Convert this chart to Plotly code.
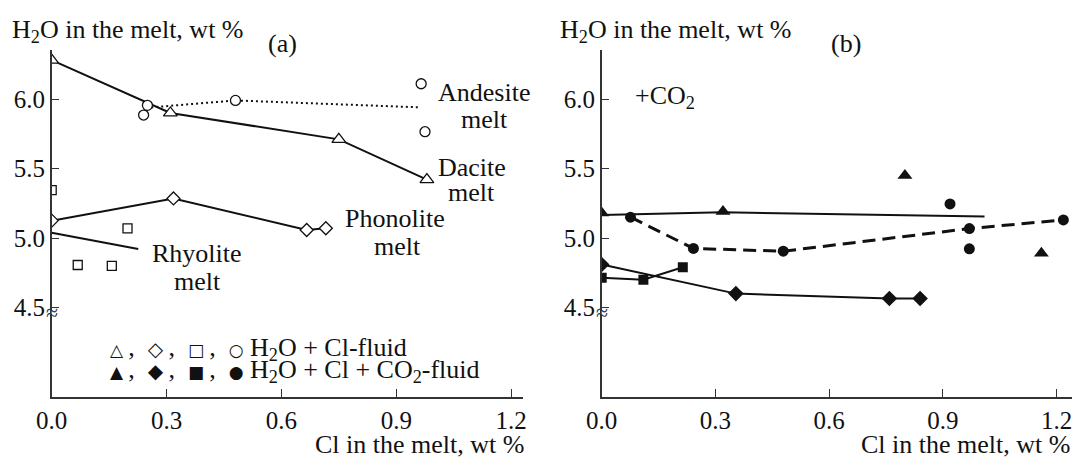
import plotly.graph_objects as go

# ---------------- data ----------------
# Panel (a): H2O + Cl fluid (open symbols)
dac_cl = [0.0, 0.31, 0.75, 0.98]
dac_h2o = [6.28, 5.90, 5.71, 5.42]
and_cl = [0.24, 0.25, 0.48, 0.965, 0.975]
and_h2o = [5.885, 5.955, 5.99, 6.11, 5.765]
and_trend_cl = [0.26, 0.48, 0.962]
and_trend_h2o = [5.94, 5.99, 5.94]
pho_cl = [0.0, 0.318, 0.666, 0.716]
pho_h2o = [5.125, 5.285, 5.058, 5.07]
rhy_cl = [0.0, 0.068, 0.157, 0.198]
rhy_h2o = [5.345, 4.806, 4.80, 5.07]
rhy_trend_cl = [0.0, 0.226]
rhy_trend_h2o = [5.038, 4.921]

# Panel (b): H2O + Cl + CO2 fluid (filled symbols)
dacb_cl = [0.0, 0.32, 0.80, 1.16]
dacb_h2o = [5.18, 5.19, 5.45, 4.89]
dacb_trend_cl = [0.0, 0.32, 1.01]
dacb_trend_h2o = [5.165, 5.185, 5.155]
andb_cl = [0.076, 0.242, 0.479, 0.919, 0.97, 0.97, 1.218]
andb_h2o = [5.15, 4.925, 4.905, 5.245, 5.068, 4.922, 5.13]
andb_trend_cl = [0.076, 0.242, 0.479, 0.97, 1.218]
andb_trend_h2o = [5.15, 4.925, 4.905, 5.068, 5.13]
phob_cl = [0.0, 0.354, 0.759, 0.84]
phob_h2o = [4.81, 4.60, 4.565, 4.565]
rhyb_cl = [0.0, 0.11, 0.214]
rhyb_h2o = [4.715, 4.70, 4.79]

x_ticks = [0.0, 0.3, 0.6, 0.9, 1.2]
x_ticklabels = ["0.0", "0.3", "0.6", "0.9", "1.2"]
y_ticks = [4.5, 5.0, 5.5, 6.0]
y_ticklabels = ["4.5", "5.0", "5.5", "6.0"]
y_break = 4.5

# ---------------- styling ----------------
W, H = 1075, 458
FONT = "Liberation Serif"
FS = 26
TFS = 25
AX = "#333333"
BLACK = "#111111"
NB = "\u00a0"
THIN = "\u2009"


def px(x):
    return x / W


def py(y):
    return 1 - y / H


fig = go.Figure()


def line(x, y, xa, ya, width=2, dash="solid"):
    fig.add_trace(go.Scatter(x=x, y=y, mode="lines", xaxis=xa, yaxis=ya,
                             line=dict(color=BLACK, width=width, dash=dash),
                             showlegend=False, hoverinfo="skip"))


def pts(x, y, xa, ya, symbol, size, filled):
    fig.add_trace(go.Scatter(
        x=x, y=y, mode="markers", xaxis=xa, yaxis=ya,
        marker=dict(symbol=symbol, size=size,
                    color=BLACK if filled else "white",
                    line=dict(color=BLACK, width=0 if filled else 1.3)),
        showlegend=False))


# panel (a)
line(dac_cl, dac_h2o, "x", "y")
line(and_trend_cl, and_trend_h2o, "x", "y", width=2, dash="2px,3px")
line(pho_cl, pho_h2o, "x", "y")
line(rhy_trend_cl, rhy_trend_h2o, "x", "y")
pts(dac_cl, dac_h2o, "x", "y", "triangle-up", 12, False)
pts(and_cl, and_h2o, "x", "y", "circle", 10, False)
pts(pho_cl, pho_h2o, "x", "y", "diamond", 10, False)
pts(rhy_cl, rhy_h2o, "x", "y", "square", 9, False)

# panel (b)
line(dacb_trend_cl, dacb_trend_h2o, "x2", "y2")
line(andb_trend_cl, andb_trend_h2o, "x2", "y2", width=3, dash="13px,7px")
line(phob_cl, phob_h2o, "x2", "y2")
line(rhyb_cl, rhyb_h2o, "x2", "y2")
pts(dacb_cl, dacb_h2o, "x2", "y2", "triangle-up", 13, True)
pts(andb_cl, andb_h2o, "x2", "y2", "circle", 11, True)
pts(phob_cl, phob_h2o, "x2", "y2", "diamond", 12, True)
pts(rhyb_cl, rhyb_h2o, "x2", "y2", "square", 10, True)

ydom = [py(397), py(50)]
yrng = [3.856, 6.353]
common_x = dict(showline=True, linecolor=AX, linewidth=1.5, ticks="inside",
                ticklen=8, tickwidth=1.3, tickcolor=AX, tickvals=x_ticks,
                ticktext=x_ticklabels, showgrid=False, zeroline=False,
                automargin=False,
                tickfont=dict(family=FONT, size=TFS, color=BLACK), fixedrange=True)
common_y = dict(showline=True, linecolor=AX, linewidth=1.5, ticks="inside",
                ticklen=8, tickwidth=1.3, tickcolor=AX, tickvals=y_ticks,
                ticktext=y_ticklabels, showgrid=False, zeroline=False,
                range=yrng, domain=ydom, automargin=False,
                tickfont=dict(family=FONT, size=TFS, color=BLACK), fixedrange=True)

fig.update_layout(
    template="none",
    width=W, height=H, margin=dict(l=0, r=0, t=0, b=0, pad=0, autoexpand=False),
    paper_bgcolor="white", plot_bgcolor="white", showlegend=False,
    font=dict(family=FONT, size=FS, color=BLACK),
    xaxis=dict(common_x, domain=[px(51.7), px(523)], range=[0, 1.231], anchor="y"),
    yaxis=dict(common_y, anchor="x"),
    xaxis2=dict(common_x, domain=[px(601.7), px(1071.7)], range=[0, 1.24], anchor="y2"),
    yaxis2=dict(common_y, anchor="x2"),
)

# axis breaks at 4.5: white gap in the axis + "≈" sign
for xr, yr in (("x", "y"), ("x2", "y2")):
    fig.add_shape(type="path", xref=xr, yref=yr, xsizemode="pixel", ysizemode="pixel",
                  xanchor=0, yanchor=y_break, path="M-3,-3 L3,-3 L3,-7 L-3,-7 Z",
                  fillcolor="white", line=dict(width=0), layer="above")
    fig.add_annotation(text="≈", x=0, y=y_break, xref=xr, yref=yr, showarrow=False,
                       xanchor="center", yanchor="middle", yshift=-5,
                       font=dict(family=FONT, size=22, color=AX))


def ann(text, x, y, xanchor="center", yanchor="middle", size=FS):
    fig.add_annotation(text=text, x=px(x), y=py(y), xref="paper", yref="paper",
                       xanchor=xanchor, yanchor=yanchor, showarrow=False,
                       font=dict(family=FONT, size=size, color=BLACK))


# axis titles
ann("H<sub>2</sub>O in the melt, wt %", 10, 31, xanchor="left")
ann("H<sub>2</sub>O in the melt, wt %", 558, 31, xanchor="left")
ann("Cl in the melt, wt %", 526, 444, xanchor="right")
ann("Cl in the melt, wt %", 1072, 444, xanchor="right")
ann("(a)", 282, 43)
ann("(b)", 846, 43)
ann("+CO<sub>2</sub>", 633, 97, xanchor="left")

# curve labels
ann("Andesite", 484, 93)
ann("melt", 484, 120)
ann("Dacite", 472, 167)
ann("melt", 471, 192)
ann("Phonolite", 395, 218)
ann("melt", 397, 246)
ann("Rhyolite", 197, 253)
ann("melt", 197, 281)

# symbol key
SYM_SIZE = {"△": 17, "◇": 20, "□": 17, "○": 17, "▲": 17, "◆": 20, "■": 17, "●": 17}
sep = THIN + "," + NB * 2


def key(symbols):
    return sep.join('<span style="font-family:DejaVu Sans;font-size:%dpx">%s</span>'
                    % (SYM_SIZE[s], s) for s in symbols)


ann(key(["△", "◇", "□", "○"]) + NB + "H<sub>2</sub>O + Cl-fluid",
    108, 349, xanchor="left")
ann(key(["▲", "◆", "■", "●"]) + NB + "H<sub>2</sub>O + Cl + CO<sub>2</sub>-fluid",
    108, 371, xanchor="left")

fig.write_html("out.html", config={"displayModeBar": False},
               post_script="document.body.style.margin='0';document.body.style.padding='0';")
